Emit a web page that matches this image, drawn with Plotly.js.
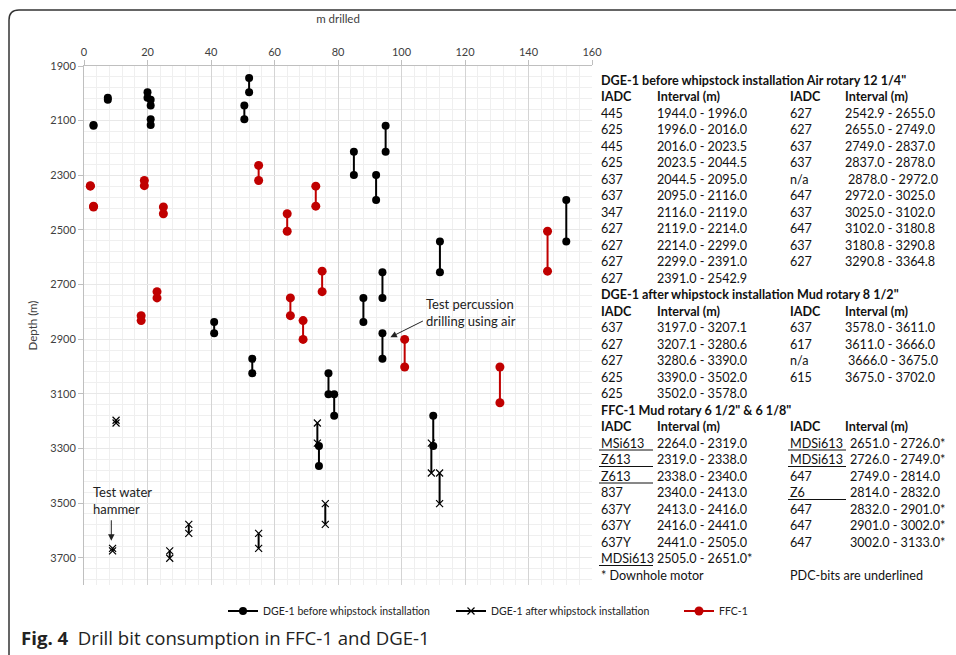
<!DOCTYPE html>
<html>
<head>
<meta charset="utf-8">
<script src="https://cdn.plot.ly/plotly-3.0.1.min.js"></script>
<style>
  html, body { margin: 0; padding: 0; background: #ffffff; }
  #chart { width: 956px; height: 655px; }
</style>
</head>
<body>
<div id="chart"></div>
<script>
// ---------------- DATA ----------------
// DGE-1 before whipstock installation (air rotary 12 1/4")
var dgeBeforeIADC  = ['445','625','445','625','637','637','347','627','627','627','627','627','627','637','637','n/a','647','637','647','637','627'];
var dgeBeforeStart = [1944.0,1996.0,2016.0,2023.5,2044.5,2095.0,2116.0,2119.0,2214.0,2299.0,2391.0,2542.9,2655.0,2749.0,2837.0,2878.0,2972.0,3025.0,3102.0,3180.8,3290.8];
var dgeBeforeEnd   = [1996.0,2016.0,2023.5,2044.5,2095.0,2116.0,2119.0,2214.0,2299.0,2391.0,2542.9,2655.0,2749.0,2837.0,2878.0,2972.0,3025.0,3102.0,3180.8,3290.8,3364.8];

// DGE-1 after whipstock installation (mud rotary 8 1/2")
var dgeAfterIADC  = ['637','627','627','625','625','637','617','n/a','615'];
var dgeAfterStart = [3197.0,3207.1,3280.6,3390.0,3502.0,3578.0,3611.0,3666.0,3675.0];
var dgeAfterEnd   = [3207.1,3280.6,3390.0,3502.0,3578.0,3611.0,3666.0,3675.0,3702.0];

// FFC-1 (mud rotary 6 1/2" & 6 1/8")
var ffcIADC   = ['MSi613','Z613','Z613','837','637Y','637Y','637Y','MDSi613','MDSi613','MDSi613','647','Z6','647','647','647'];
var ffcStart  = [2264.0,2319.0,2338.0,2340.0,2413.0,2416.0,2441.0,2505.0,2651.0,2726.0,2749.0,2814.0,2832.0,2901.0,3002.0];
var ffcEnd    = [2319.0,2338.0,2340.0,2413.0,2416.0,2441.0,2505.0,2651.0,2726.0,2749.0,2814.0,2832.0,2901.0,3002.0,3133.0];
var ffcPDC    = [true,true,true,false,false,false,false,true,true,true,false,true,false,false,false];
var ffcMotor  = [false,false,false,false,false,false,false,true,true,true,false,false,true,true,true];

var seriesNames = ['DGE-1 before whipstock installation','DGE-1 after whipstock installation','FFC-1'];
var xTickVals = [0,20,40,60,80,100,120,140,160];
var yTickVals = [1900,2100,2300,2500,2700,2900,3100,3300,3500,3700];

// ---------------- HELPERS ----------------
function segments(starts, ends) {
  var xs = [], ys = [];
  for (var i = 0; i < starts.length; i++) {
    var len = +(ends[i] - starts[i]).toFixed(1);
    xs.push(len, len, null);
    ys.push(starts[i], ends[i], null);
  }
  return {x: xs, y: ys};
}
var W = 956, H = 655;
var M = {l: 84, r: 364, t: 66, b: 70};
var PW = W - M.l - M.r, PH = H - M.t - M.b;
function px(x) { return (x - M.l) / PW; }
function py(y) { return (H - M.b - y) / PH; }

var segBefore = segments(dgeBeforeStart, dgeBeforeEnd);
var segAfter  = segments(dgeAfterStart, dgeAfterEnd);
var segFFC    = segments(ffcStart, ffcEnd);

var traces = [
  {type:'scatter', mode:'lines+markers', name: seriesNames[0], x: segBefore.x, y: segBefore.y,
   line:{color:'#000000', width:2}, marker:{symbol:'circle', size:8, color:'#000000'}, connectgaps:false},
  {type:'scatter', mode:'lines+markers', name: seriesNames[1], x: segAfter.x, y: segAfter.y,
   line:{color:'#000000', width:2}, marker:{symbol:'x-thin-open', size:7, color:'#000000', line:{width:1.2, color:'#000000'}}, connectgaps:false},
  {type:'scatter', mode:'lines+markers', name: seriesNames[2], x: segFFC.x, y: segFFC.y,
   line:{color:'#c00000', width:2}, marker:{symbol:'circle', size:9, color:'#c00000'}, connectgaps:false}
];

// ---------------- TABLE ANNOTATIONS ----------------
var TF = 'Lato, "Open Sans", sans-serif';
var TS = 12.6;
var annotations = [];
function rowY(k) { return 80 + 16.5 * k; }
function txt(x, k, s, bold, size) {
  annotations.push({xref:'paper', yref:'paper', x: px(x), y: py(rowY(k)), xanchor:'left', yanchor:'middle',
    showarrow:false, text: bold ? '<b>' + s + '</b>' : s, font:{family:TF, size: size || TS, color:'#111111'}});
}
function fmt(a, b) { return a.toFixed(1) + ' - ' + b.toFixed(1); }
var C1 = 599, C2 = 655, C3 = 788, C4 = 843;

// Section 1
txt(C1, 0, 'DGE-1 before whipstock installation Air rotary 12 1/4"', true);
txt(C1, 1, 'IADC', true); txt(C2, 1, 'Interval (m)', true);
txt(C3, 1, 'IADC', true); txt(C4, 1, 'Interval (m)', true);
for (var i = 0; i < dgeBeforeIADC.length; i++) {
  if (i < 11) { txt(C1, 2 + i, dgeBeforeIADC[i]); txt(C2, 2 + i, fmt(dgeBeforeStart[i], dgeBeforeEnd[i])); }
  else { txt(C3, 2 + i - 11, dgeBeforeIADC[i]); txt(C4 + (dgeBeforeIADC[i] === 'n/a' ? 3 : 0), 2 + i - 11, fmt(dgeBeforeStart[i], dgeBeforeEnd[i])); }
}
// Section 2
txt(C1, 13, 'DGE-1 after whipstock installation Mud rotary 8 1/2"', true);
txt(C1, 14, 'IADC', true); txt(C2, 14, 'Interval (m)', true);
txt(C3, 14, 'IADC', true); txt(C4, 14, 'Interval (m)', true);
for (var j = 0; j < dgeAfterIADC.length; j++) {
  if (j < 5) { txt(C1, 15 + j, dgeAfterIADC[j]); txt(C2, 15 + j, fmt(dgeAfterStart[j], dgeAfterEnd[j])); }
  else { txt(C3, 15 + j - 5, dgeAfterIADC[j]); txt(C4 + (dgeAfterIADC[j] === 'n/a' ? 3 : 0), 15 + j - 5, fmt(dgeAfterStart[j], dgeAfterEnd[j])); }
}
// Section 3
txt(C1, 20, 'FFC-1 Mud rotary 6 1/2" &amp; 6 1/8"', true);
txt(C1, 21, 'IADC', true); txt(C2, 21, 'Interval (m)', true);
txt(C3, 21, 'IADC', true); txt(C4, 21, 'Interval (m)', true);
var underlines = [];
for (var f = 0; f < ffcIADC.length; f++) {
  var left = f < 8;
  var k = left ? 22 + f : 22 + f - 8;
  var cA = left ? C1 : C3;
  var cB = left ? C2 : 848;
  txt(cA, k, ffcIADC[f]);
  txt(cB, k, fmt(ffcStart[f], ffcEnd[f]) + (ffcMotor[f] ? '*' : ''));
  if (ffcPDC[f]) underlines.push({x0: cA, x1: cB - 2, y: rowY(k) + 7});
}
txt(C1, 30, '* Downhole motor');
txt(C3, 30, 'PDC-bits are underlined');

// In-plot notes
var NF = {family: TF, size: 13, color:'#222222'};
annotations.push({xref:'paper', yref:'paper', x: px(424), y: py(294), xanchor:'left', yanchor:'top', showarrow:false,
  align:'left', text:'Test percussion<br>drilling using air', font: NF});
annotations.push({xref:'x', yref:'y', x: 96.5, y: 2893, ax: 34, ay: -17, showarrow:true, arrowhead:2, arrowsize:1.3, arrowwidth:1, arrowcolor:'#222222', text:''});
annotations.push({xref:'paper', yref:'paper', x: px(91), y: py(482), xanchor:'left', yanchor:'top', showarrow:false,
  align:'left', text:'Test water<br>hammer', font: NF});
annotations.push({xref:'x', yref:'y', x: 8.6, y: 3638, ax: 0, ay: -22, showarrow:true, arrowhead:2, arrowsize:1.3, arrowwidth:1, arrowcolor:'#222222', text:''});

// Caption
annotations.push({xref:'paper', yref:'paper', x: px(19), y: py(637), xanchor:'left', yanchor:'middle', showarrow:false,
  text:'<b>Fig. 4</b>  Drill bit consumption in FFC-1 and DGE-1', font:{family:'"Open Sans", sans-serif', size:18.6, color:'#222222'}});

// Shapes: figure frame and underlines
var shapes = [];
var fx = 9, fy = 10, rad = 10;
shapes.push({type:'path', xref:'paper', yref:'paper',
  path: 'M ' + px(fx) + ',' + py(H + 5) + ' L ' + px(fx) + ',' + py(fy + rad) +
        ' Q ' + px(fx) + ',' + py(fy) + ' ' + px(fx + rad) + ',' + py(fy) +
        ' L ' + px(W + 5) + ',' + py(fy),
  line:{color:'#333333', width:1.5}});
underlines.forEach(function(u){
  shapes.push({type:'line', xref:'paper', yref:'paper', x0: px(u.x0), x1: px(u.x1), y0: py(u.y), y1: py(u.y),
    line:{color:'#111111', width:1}});
});

var layout = {
  width: W, height: H,
  margin: M,
  paper_bgcolor:'#ffffff', plot_bgcolor:'#ffffff',
  font: {family: TF, color:'#404040'},
  showlegend: true,
  legend: {orientation:'h', x: px(907), xanchor:'right', y: py(611), yanchor:'middle',
    font:{family: TF, size: 10.5, color:'#222222'}, itemwidth: 30, tracegroupgap: 0,
    entrywidth: 183, entrywidthmode: 'pixels'},
  xaxis: {
    side:'top', range:[0,160], tickvals: xTickVals, ticktext: xTickVals.map(String),
    showgrid:true, gridcolor:'#d4d4d4', gridwidth:1,
    minor:{dtick:4, showgrid:true, gridcolor:'#efefef', gridwidth:1},
    showline:true, linecolor:'#bfbfbf', linewidth:1, mirror:false,
    ticks:'outside', ticklen:5, tickcolor:'#bfbfbf',
    tickfont:{family:TF, size:11, color:'#404040'},
    zeroline:false,
    title:{text:'m drilled', font:{family:TF, size:11.5, color:'#404040'}, standoff: 18}
  },
  yaxis: {
    range:[3800,1900], tickvals: yTickVals, ticktext: yTickVals.map(String),
    showgrid:true, gridcolor:'#e8e8e8', gridwidth:1,
    minor:{dtick:40, tick0:1900, showgrid:true, gridcolor:'#efefef', gridwidth:1},
    showline:true, linecolor:'#bfbfbf', linewidth:1,
    ticks:'outside', ticklen:5, tickcolor:'#bfbfbf',
    tickfont:{family:TF, size:11, color:'#404040'},
    zeroline:false,
    title:{text:'Depth (m)', font:{family:TF, size:11.5, color:'#404040'}, standoff: 10}
  },
  annotations: annotations,
  shapes: shapes
};

Plotly.newPlot('chart', traces, layout, {displayModeBar:false, staticPlot:true});
</script>
</body>
</html>
